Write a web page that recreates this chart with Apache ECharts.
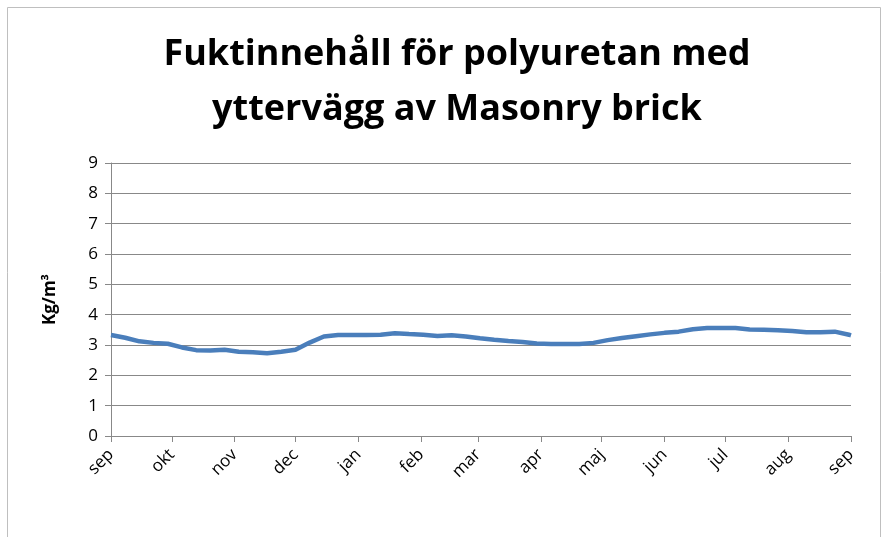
<!DOCTYPE html>
<html>
<head>
<meta charset="utf-8">
<script src="https://cdn.jsdelivr.net/npm/echarts@6/dist/echarts.min.js"></script>
<style>html,body{margin:0;padding:0;background:#fff}#c{width:888px;height:537px}</style>
</head>
<body>
<div id="c"></div>
<script>
// Month labels and their start (day offset from 1 Sep)
const monthLabels = ['sep','okt','nov','dec','jan','feb','mar','apr','maj','jun','jul','aug','sep'];
const monthStarts = [0,30,61,91,122,153,181,212,242,273,303,334,365];
// Weekly samples: day offset and moisture content (kg/m³)
const days = [0,7,14,21,28,35,42,49,56,63,70,77,84,91,98,105,112,119,126,133,140,147,154,161,168,175,182,189,196,203,210,217,224,231,238,245,252,259,266,273,280,287,294,301,308,315,322,329,336,343,350,357,364,365];
const values = [3.33,3.24,3.12,3.07,3.04,2.92,2.83,2.82,2.84,2.78,2.76,2.73,2.78,2.84,3.08,3.28,3.33,3.33,3.33,3.34,3.39,3.36,3.34,3.30,3.32,3.28,3.22,3.17,3.13,3.10,3.05,3.03,3.03,3.03,3.07,3.16,3.23,3.29,3.35,3.40,3.44,3.52,3.56,3.56,3.56,3.51,3.50,3.49,3.46,3.42,3.42,3.44,3.34,3.32];
const yTicks = [0,1,2,3,4,5,6,7,8,9];

const chart = echarts.init(document.getElementById('c'));
const font = 'Open Sans';
chart.setOption({
  animation: false,
  title: {
    text: 'Fuktinnehåll för polyuretan med\nyttervägg av Masonry brick',
    left: 452, top: 22, textAlign: 'center',
    textStyle: { fontFamily: font, fontWeight: 'bold', fontSize: 36, lineHeight: 55, color: '#000' }
  },
  graphic: [{
    type: 'rect', shape: { x: 7.5, y: 7.5, width: 873, height: 540 },
    style: { fill: 'none', stroke: '#bfbfbf', lineWidth: 1 }, silent: true
  }],
  grid: { left: 111, right: 37, top: 163, bottom: 101 },
  xAxis: {
    type: 'value', min: 0, max: 365,
    axisLine: { show: true, lineStyle: { color: '#888', width: 1 } },
    axisTick: { show: true, length: 6, lineStyle: { color: '#888' }, customValues: monthStarts },
    axisLabel: {
      customValues: monthStarts, rotate: 45, fontFamily: font, fontSize: 17, color: '#000', margin: 16,
      formatter: (v) => { const i = monthStarts.indexOf(v); return i >= 0 ? monthLabels[i] : ''; }
    },
    splitLine: { show: false }
  },
  yAxis: {
    type: 'value', min: yTicks[0], max: yTicks[yTicks.length - 1], interval: 1,
    name: 'Kg/m³', nameLocation: 'middle', nameGap: 52, nameRotate: 90,
    nameTextStyle: { fontFamily: font, fontWeight: 'bold', fontSize: 17, color: '#000' },
    axisLine: { show: true, lineStyle: { color: '#888' } },
    axisTick: { show: true, length: 6, lineStyle: { color: '#888' } },
    axisLabel: { fontFamily: font, fontSize: 17, color: '#000', margin: 13 },
    splitLine: { show: true, lineStyle: { color: '#888', width: 1 } }
  },
  series: [{
    type: 'line',
    data: days.map((d, i) => [d, values[i]]),
    showSymbol: false,
    smooth: false,
    lineStyle: { color: '#4a7ebb', width: 4.5 },
    itemStyle: { color: '#4a7ebb' }
  }]
});
</script>
</body>
</html>
